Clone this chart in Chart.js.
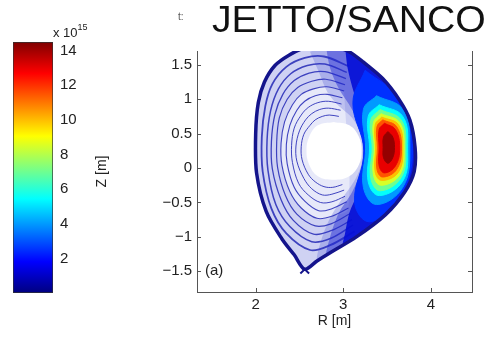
<!DOCTYPE html>
<html><head><meta charset="utf-8">
<script src="https://cdn.jsdelivr.net/npm/chart.js@4.4.1/dist/chart.umd.min.js"></script>
<style>
html,body{margin:0;padding:0;background:#fff;width:490px;height:337px;overflow:hidden;font-family:"Liberation Sans",Arial,sans-serif}
canvas{position:absolute;left:0;top:0}
#title{position:absolute;left:212px;top:1px;font-size:37px;line-height:37px;color:#111;white-space:nowrap;transform:scaleX(1.06);transform-origin:0 0}
#tsmall{position:absolute;left:178px;top:11px;font-size:10px;color:#555}
#exp{position:absolute;left:53px;top:24px;font-size:13px;color:#222;white-space:nowrap}
#exp sup{font-size:9px;position:relative;top:-2px}
</style></head><body>
<canvas id="cbar" width="110" height="337" style="width:110px;height:337px"></canvas>
<canvas id="main" width="490" height="337" style="width:490px;height:337px"></canvas>
<div id="title">JETTO/SANCO</div>
<div id="tsmall">t:</div>
<div id="exp">x 10<sup>15</sup></div>
<script>
// ---- data ----
const xTicks = [2, 3, 4];
const xTickLabels = ['2', '3', '4'];
const yTicks = [-1.5, -1, -0.5, 0, 0.5, 1, 1.5];
const yTickLabels = ['\u22121.5', '\u22121', '\u22120.5', '0', '0.5', '1', '1.5'];
const cbarTicks = [2, 4, 6, 8, 10, 12, 14];
const cbarRange = [0, 14.5];

// last closed flux surface (R, Z)
const boundary = [[3.22,1.55],[3.05,1.70],[2.80,1.78],[2.55,1.74],[2.38,1.64],[2.22,1.49],[2.10,1.25],[2.03,0.95],[2.00,0.50],[2.01,-0.07],[2.12,-0.63],[2.30,-1.03],[2.44,-1.26],[2.56,-1.47],[2.70,-1.35],[2.85,-1.23],[3.15,-1.00],[3.48,-0.68],[3.70,-0.35],[3.81,-0.05],[3.82,0.30],[3.76,0.70],[3.64,0.99],[3.45,1.30],[3.22,1.55]];
const xpointLegs = [[2.51,-1.53],[2.56,-1.47],[2.61,-1.53]];
// empty central region
const hole = [[2.89,0.67],[3.07,0.62],[3.18,0.45],[3.21,0.25],[3.18,0.05],[3.07,-0.12],[2.89,-0.17],[2.71,-0.12],[2.61,0.05],[2.58,0.25],[2.61,0.45],[2.71,0.62]];

// low-level contour lines on the inboard side
const contourRings = [
 [[3.06,1.48],[2.78,1.62],[2.56,1.60],[2.35,1.47],[2.19,1.22],[2.11,0.90],[2.07,0.45],[2.08,-0.05],[2.18,-0.59],[2.35,-0.95],[2.62,-1.19],[2.85,-1.12],[3.13,-0.92]],
 [[3.04,1.39],[2.79,1.51],[2.59,1.49],[2.40,1.37],[2.26,1.15],[2.17,0.83],[2.13,0.41],[2.14,-0.03],[2.23,-0.53],[2.39,-0.85],[2.64,-1.07],[2.86,-1.02],[3.11,-0.83]],
 [[3.03,1.30],[2.79,1.40],[2.61,1.38],[2.44,1.27],[2.31,1.07],[2.22,0.78],[2.18,0.39],[2.19,-0.01],[2.29,-0.46],[2.43,-0.76],[2.66,-0.96],[2.86,-0.91],[3.10,-0.75]],
 [[3.02,1.21],[2.80,1.29],[2.64,1.26],[2.48,1.17],[2.36,1.00],[2.27,0.73],[2.24,0.38],[2.25,0.01],[2.34,-0.40],[2.47,-0.67],[2.68,-0.84],[2.86,-0.81],[3.08,-0.66]],
 [[3.01,1.12],[2.81,1.18],[2.66,1.15],[2.52,1.07],[2.42,0.92],[2.33,0.67],[2.29,0.36],[2.30,0.04],[2.39,-0.34],[2.52,-0.58],[2.70,-0.73],[2.87,-0.70],[3.06,-0.58]],
 [[2.99,1.02],[2.82,1.07],[2.68,1.05],[2.56,0.97],[2.47,0.84],[2.39,0.62],[2.35,0.34],[2.36,0.06],[2.44,-0.28],[2.56,-0.48],[2.72,-0.62],[2.87,-0.59],[3.04,-0.49]],
 [[2.98,0.93],[2.83,0.97],[2.71,0.95],[2.60,0.88],[2.52,0.77],[2.44,0.58],[2.41,0.33],[2.42,0.08],[2.49,-0.22],[2.60,-0.39],[2.74,-0.50],[2.87,-0.49],[3.02,-0.41]],
 [[2.97,0.84],[2.83,0.87],[2.73,0.85],[2.64,0.79],[2.57,0.70],[2.50,0.54],[2.46,0.32],[2.47,0.10],[2.55,-0.15],[2.64,-0.30],[2.76,-0.39],[2.87,-0.38],[3.01,-0.32]],
 [[2.95,0.75],[2.84,0.77],[2.76,0.75],[2.68,0.70],[2.62,0.62],[2.55,0.49],[2.52,0.31],[2.53,0.12],[2.60,-0.09],[2.68,-0.20],[2.78,-0.27],[2.88,-0.28],[2.99,-0.24]]
];
const ringWidths = [1.8,1.5,1.3,1.2,1.1,1.1,1.0,1.0,1.0];

// outboard low-level bands: faint, medium and dense
const bandFaint = [[2.62,1.69],[2.90,1.77],[3.05,1.70],[3.22,1.55],[3.45,1.30],[3.64,0.99],[3.76,0.70],[3.82,0.30],[3.81,-0.05],[3.70,-0.35],[3.48,-0.68],[3.15,-1.00],[2.85,-1.23],[2.70,-1.35],[2.76,-1.00],[2.86,-0.70],[3.00,-0.42],[3.12,-0.20],[3.20,0.02],[3.22,0.25],[3.20,0.50],[3.10,0.73],[2.95,0.90],[2.82,1.10],[2.72,1.40],[2.62,1.69]];
const bandOuter = [[2.80,1.78],[3.05,1.70],[3.22,1.55],[3.45,1.30],[3.64,0.99],[3.76,0.70],[3.82,0.30],[3.81,-0.05],[3.70,-0.35],[3.48,-0.68],[3.15,-1.00],[2.85,-1.23],[2.80,-1.28],[2.85,-1.00],[2.95,-0.65],[3.10,-0.35],[3.20,-0.05],[3.23,0.25],[3.20,0.55],[3.10,0.85],[2.95,1.15],[2.85,1.45],[2.80,1.78]];
const bandInner = [[3.02,1.76],[3.05,1.70],[3.22,1.55],[3.45,1.30],[3.64,0.99],[3.76,0.70],[3.82,0.30],[3.81,-0.05],[3.70,-0.35],[3.48,-0.68],[3.15,-1.00],[3.00,-1.12],[3.02,-0.95],[3.07,-0.65],[3.17,-0.35],[3.24,-0.05],[3.26,0.25],[3.25,0.50],[3.20,0.80],[3.12,1.10],[3.05,1.45],[3.02,1.76]];

// density levels of the outboard peak (x 10^15) and their contours
const hotLevels = [2.5, 4, 5.5, 7, 8.5, 10, 11.5, 13, 14.2];
const hotContours = [
 [[3.25,1.42],[3.62,1.02],[3.79,0.29],[3.64,-0.45],[3.30,-0.78],[3.13,-0.50],[3.235,0.25],[3.11,0.95]],
 [[3.38,1.05],[3.68,0.85],[3.76,0.29],[3.68,-0.28],[3.38,-0.53],[3.23,-0.28],[3.255,0.29],[3.23,0.85]],
 [[3.41,0.92],[3.68,0.75],[3.735,0.29],[3.68,-0.19],[3.41,-0.40],[3.285,-0.20],[3.30,0.29],[3.285,0.75]],
 [[3.42,0.85],[3.66,0.70],[3.715,0.29],[3.66,-0.14],[3.42,-0.33],[3.315,-0.15],[3.33,0.29],[3.315,0.70]],
 [[3.43,0.79],[3.645,0.66],[3.695,0.29],[3.645,-0.10],[3.43,-0.25],[3.345,-0.10],[3.355,0.29],[3.345,0.66]],
 [[3.44,0.74],[3.63,0.63],[3.68,0.29],[3.63,-0.06],[3.44,-0.18],[3.365,-0.06],[3.37,0.29],[3.365,0.63]],
 [[3.45,0.70],[3.61,0.60],[3.665,0.29],[3.61,-0.02],[3.45,-0.13],[3.385,-0.02],[3.39,0.29],[3.385,0.60]],
 [[3.47,0.65],[3.595,0.56],[3.645,0.29],[3.595,0.03],[3.47,-0.07],[3.41,0.03],[3.41,0.29],[3.41,0.56]],
 [[3.51,0.53],[3.565,0.45],[3.585,0.30],[3.565,0.15],[3.51,0.07],[3.46,0.15],[3.455,0.30],[3.46,0.45]]
];
const panelLabel = '(a)';
const panelLabelAt = [1.42, -1.5];

// ---- helpers ----
const FONT = '"Liberation Sans", Arial, sans-serif';
Chart.defaults.font.family = FONT;
function jet(v){
  const t = (v - cbarRange[0]) / (cbarRange[1] - cbarRange[0]);
  const c = x => Math.round(255 * Math.max(0, Math.min(1, x)));
  return `rgb(${c(1.5-Math.abs(4*t-3))},${c(1.5-Math.abs(4*t-2))},${c(1.5-Math.abs(4*t-1))})`;
}
const pts = arr => arr.map(p => ({x: p[0], y: p[1]}));
const closed = arr => pts(arr.concat([arr[0]]));

// ---- colour bar ----
function jetGradient(chart){
  const a = chart.chartArea;
  if (!a) return '#0000ff';
  const g = chart.ctx.createLinearGradient(0, a.bottom, 0, a.top);
  [[0,'#00007f'],[0.125,'#0000ff'],[0.375,'#00ffff'],[0.625,'#ffff00'],[0.875,'#ff0000'],[1,'#7f0000']].forEach(s => g.addColorStop(s[0], s[1]));
  return g;
}
new Chart(document.getElementById('cbar'), {
  type: 'bar',
  data: { labels: [''], datasets: [{ data: [cbarRange], backgroundColor: ctx => jetGradient(ctx.chart),
    borderColor: '#333', borderWidth: 1, borderSkipped: false, barPercentage: 1, categoryPercentage: 1 }] },
  options: {
    responsive: false, animation: false, events: [],
    plugins: { legend: { display: false }, tooltip: { enabled: false } },
    layout: { padding: { left: 13, top: 42, bottom: 44, right: 0 } },
    scales: {
      x: { display: false },
      y: { position: 'right', min: cbarRange[0], max: cbarRange[1], z: 1,
        afterBuildTicks: s => { s.ticks = cbarTicks.map(v => ({ value: v })); },
        afterFit: s => { s.width = 57; },
        ticks: { padding: 7, color: '#222', font: { size: 15 }, callback: (v, i) => String(cbarTicks[i]) },
        grid: { drawTicks: false, color: 'rgba(0,0,0,0.7)', lineWidth: 1 },
        border: { display: false, dash: [3, 3] } }
    }
  }
});

// ---- main contour plot ----
const layers = [];
const fillLayer = (arr, color, tension) => ({ data: closed(arr), showLine: true, fill: 'shape', backgroundColor: color, borderColor: color, borderWidth: 0, pointRadius: 0, tension });
layers.push(fillLayer(boundary, 'rgba(95,105,215,0.30)', 0.3));
layers.push(fillLayer(contourRings[4], 'rgba(255,255,255,0.5)', 0.35));
layers.push(fillLayer(hole, '#ffffff', 0.4));
contourRings.forEach((r, i) => layers.push({ data: pts(r), showLine: true, fill: false, borderColor: 'rgba(45,50,185,0.9)', borderWidth: ringWidths[i], pointRadius: 0, tension: 0.35 }));
layers.push(fillLayer(bandFaint, 'rgba(40,50,205,0.22)', 0.3));
layers.push(fillLayer(bandOuter, 'rgba(30,40,210,0.45)', 0.3));
layers.push(fillLayer(bandInner, 'rgba(5,15,215,0.92)', 0.3));
hotContours.forEach((c, i) => { const l = fillLayer(c, jet(hotLevels[i]), 0.4); l.borderWidth = 1; layers.push(l); });
layers.push({ data: pts(boundary), showLine: true, fill: false, borderColor: '#14148c', borderWidth: 3.5, pointRadius: 0, tension: 0.3 });
layers.push({ data: pts(xpointLegs), showLine: true, fill: false, borderColor: '#14148c', borderWidth: 2, pointRadius: 0, tension: 0 });
layers.forEach((d, i) => { d.order = layers.length - i; });

const frame = {
  id: 'frame',
  afterDraw(chart){
    const { ctx, chartArea: a, scales: { x, y } } = chart;
    ctx.save();
    ctx.strokeStyle = '#555'; ctx.lineWidth = 1;
    ctx.beginPath();
    ctx.moveTo(Math.round(a.right) + 0.5, a.top); ctx.lineTo(Math.round(a.right) + 0.5, a.bottom);
    xTicks.forEach(v => { const px = Math.round(x.getPixelForValue(v)) + 0.5; ctx.moveTo(px, a.bottom); ctx.lineTo(px, a.bottom - 4); });
    yTicks.forEach(v => { const py = Math.round(y.getPixelForValue(v)) + 0.5;
      ctx.moveTo(a.left, py); ctx.lineTo(a.left + 4, py); ctx.moveTo(a.right, py); ctx.lineTo(a.right - 4, py); });
    ctx.stroke();
    ctx.fillStyle = '#222'; ctx.font = '15px ' + FONT; ctx.textBaseline = 'middle'; ctx.textAlign = 'left';
    ctx.fillText(panelLabel, x.getPixelForValue(panelLabelAt[0]), y.getPixelForValue(panelLabelAt[1]));
    ctx.restore();
  }
};

new Chart(document.getElementById('main'), {
  type: 'scatter',
  data: { datasets: layers },
  plugins: [frame],
  options: {
    responsive: false, animation: false, events: [],
    plugins: { legend: { display: false }, tooltip: { enabled: false } },
    layout: { padding: { left: 91, top: 51, right: 18, bottom: 6 } },
    scales: {
      x: { min: 1.33, max: 4.47,
        afterBuildTicks: s => { s.ticks = xTicks.map(v => ({ value: v })); },
        afterFit: s => { s.height = 39; },
        ticks: { padding: 4, color: '#222', font: { size: 15 }, callback: (v, i) => xTickLabels[i] },
        grid: { display: false, drawTicks: false },
        border: { display: true, color: '#555' },
        title: { display: true, text: 'R [m]', color: '#222', font: { size: 14 }, padding: { top: 0, bottom: 1 } } },
      y: { min: -1.8, max: 1.7,
        afterBuildTicks: s => { s.ticks = yTicks.map(v => ({ value: v })); },
        afterFit: s => { s.width = 106; },
        ticks: { padding: 5, color: '#222', font: { size: 15 }, callback: (v, i) => yTickLabels[i] },
        grid: { display: false, drawTicks: false },
        border: { display: true, color: '#555' },
        title: { display: true, text: 'Z [m]', color: '#222', font: { size: 14 }, padding: { top: 3, bottom: 0 } } }
    }
  }
});
</script>
</body></html>
